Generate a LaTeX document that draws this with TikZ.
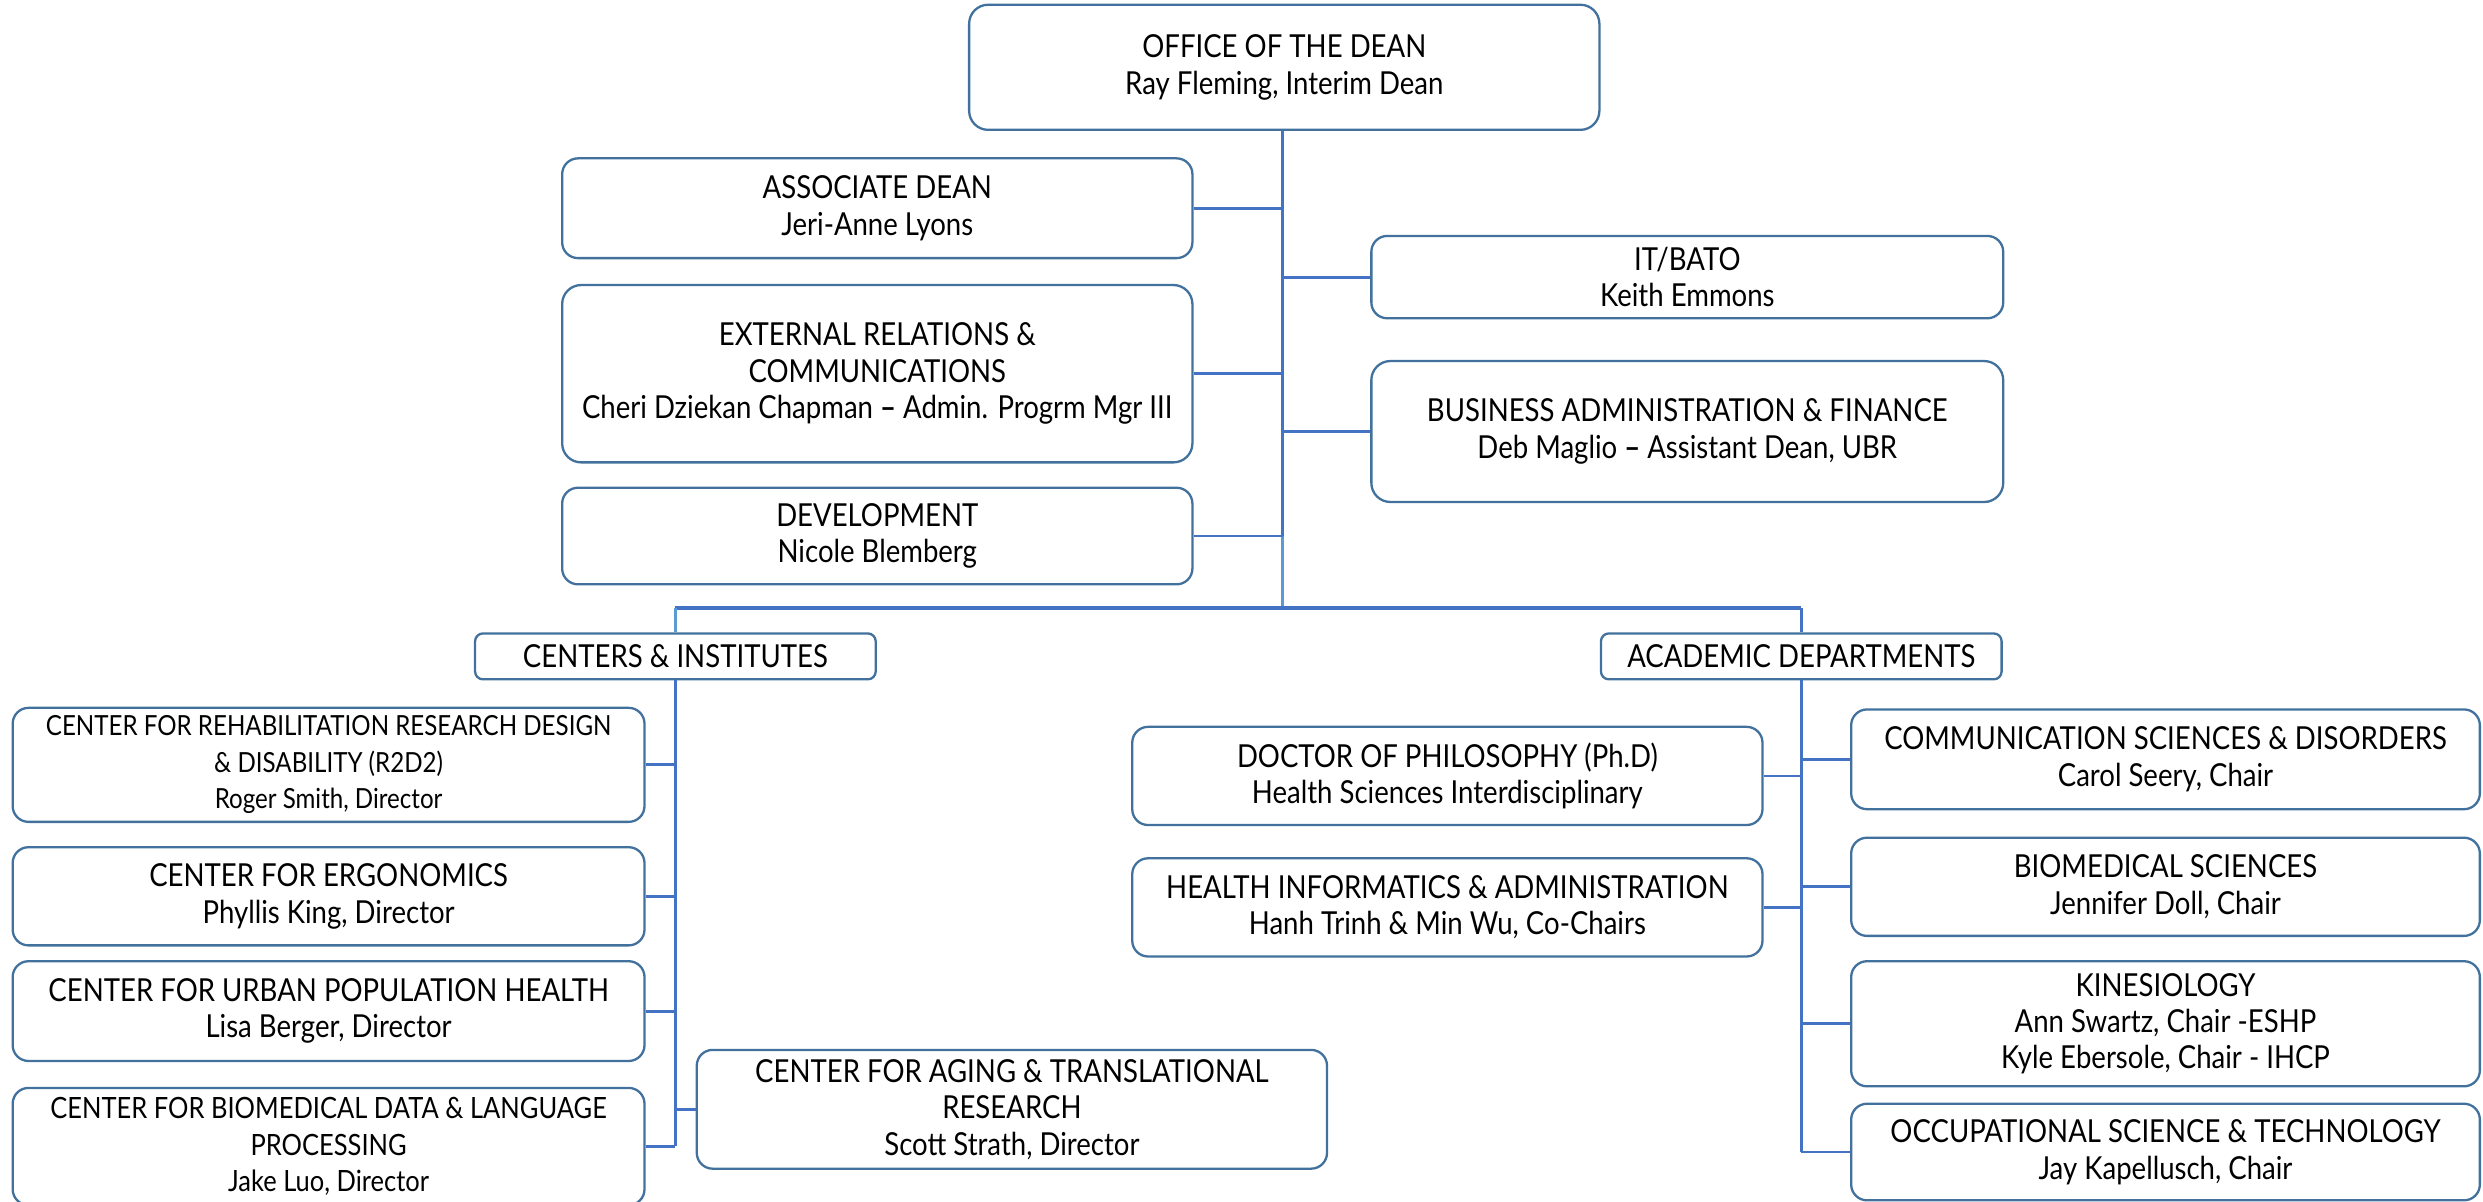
\documentclass[tikz,border=0pt]{standalone}
\usepackage{fontspec}
\setmainfont{Lato}[FakeStretch=0.87]
\definecolor{boxc}{RGB}{65,113,156}
\definecolor{linec}{RGB}{68,114,196}
\definecolor{lightc}{RGB}{91,155,213}
\tikzset{
  box/.style={draw=boxc, line width=1.45pt, rounded corners=10pt, align=center, inner sep=0pt,
    font=\fontsize{20}{23}\selectfont},
  smallbox/.style={box, rounded corners=5pt},
  conn/.style={draw=linec, line width=1.8pt},
  lconn/.style={draw=lightc, line width=1.8pt},
  barline/.style={draw=linec, line width=2.8pt},
}
\begin{document}
\begin{tikzpicture}[x=1pt,y=1pt]
\useasboundingbox (0,0) rectangle (1568,-759);
% top level
\node[box, rounded corners=12pt, minimum width=398pt, minimum height=79pt] (office) at (811,-42.5) {OFFICE OF THE DEAN\\Ray Fleming, Interim Dean};
\node[box, minimum width=398pt, minimum height=63pt] (assoc) at (554,-131.5) {ASSOCIATE DEAN\\Jeri-Anne Lyons};
\node[box, rounded corners=12pt, minimum width=398pt, minimum height=112pt] (ext) at (554,-236) {EXTERNAL RELATIONS \&\\COMMUNICATIONS\\Cheri Dziekan Chapman \textbf{–} Admin. Progrm Mgr III};
\node[box, minimum width=398pt, minimum height=61pt] (dev) at (554,-338.5) {DEVELOPMENT\\Nicole Blemberg};
\node[box, minimum width=399pt, minimum height=52pt] (it) at (1065.5,-175) {IT/BATO\\Keith Emmons};
\node[box, rounded corners=12pt, minimum width=399pt, minimum height=89pt] (bus) at (1065.5,-272.5) {BUSINESS ADMINISTRATION \& FINANCE\\Deb Maglio \textbf{–} Assistant Dean, UBR};
% second level
\node[smallbox, minimum width=253pt, minimum height=29pt] (centers) at (426.5,-414.5) {CENTERS \& INSTITUTES};
\node[smallbox, minimum width=253pt, minimum height=29pt] (acad) at (1137.5,-414.5) {ACADEMIC DEPARTMENTS};
% centers
\node[box, minimum width=399pt, minimum height=72pt] (rehab) at (207.5,-483) {{\fontsize{17.5}{21}\selectfont CENTER FOR REHABILITATION RESEARCH DESIGN}\\{\fontsize{17.5}{21}\selectfont \& DISABILITY (R2D2)}\\{\fontsize{17.5}{21}\selectfont Roger Smith, Director}};
\node[box, minimum width=399pt, minimum height=62pt] (ergo) at (207.5,-566) {CENTER FOR ERGONOMICS\\Phyllis King, Director};
\node[box, minimum width=399pt, minimum height=63pt] (urban) at (207.5,-638.5) {CENTER FOR URBAN POPULATION HEALTH\\Lisa Berger, Director};
\node[box, minimum width=399pt, minimum height=74pt] (bdata) at (207.5,-724) {{\fontsize{18.5}{22}\selectfont CENTER FOR BIOMEDICAL DATA \& LANGUAGE}\\{\fontsize{18.5}{22}\selectfont PROCESSING}\\{\fontsize{18.5}{22}\selectfont Jake Luo, Director}};
\node[box, minimum width=398pt, minimum height=75pt] (aging) at (639,-700.5) {CENTER FOR AGING \& TRANSLATIONAL\\RESEARCH\\Scott Strath, Director};
% academic
\node[box, minimum width=398pt, minimum height=62pt] (phd) at (914,-490) {DOCTOR OF PHILOSOPHY (Ph.D)\\Health Sciences Interdisciplinary};
\node[box, minimum width=398pt, minimum height=62pt] (hia) at (914,-573) {HEALTH INFORMATICS \& ADMINISTRATION\\Hanh Trinh \& Min Wu, Co-Chairs};
\node[box, minimum width=397pt, minimum height=63pt] (csd) at (1367.5,-479.5) {COMMUNICATION SCIENCES \& DISORDERS\\Carol Seery, Chair};
\node[box, minimum width=397pt, minimum height=62pt] (bms) at (1367.5,-560) {BIOMEDICAL SCIENCES\\Jennifer Doll, Chair};
\node[box, minimum width=397pt, minimum height=79pt] (kin) at (1367.5,-646.5) {KINESIOLOGY\\Ann Swartz, Chair -ESHP\\Kyle Ebersole, Chair - IHCP};
\node[box, minimum width=397pt, minimum height=61pt] (ost) at (1367.5,-727.5) {OCCUPATIONAL SCIENCE \& TECHNOLOGY\\Jay Kapellusch, Chair};
% trunk
\coordinate (bar) at (810,-384);
\coordinate (tk) at (810,-82.5);
\draw[conn] (tk) -- (tk |- dev.east);
\draw[lconn] (tk |- dev.east) -- (bar);
\foreach \n in {assoc,ext,dev}{\draw[conn] (\n.east) -- (\n.east -| tk);}
\foreach \n in {it,bus}{\draw[conn] (\n.west) -- (\n.west -| tk);}
% bar
\coordinate (barL) at (centers.north |- bar);
\coordinate (barR) at (acad.north |- bar);
\draw[barline] (barL) -- (barR);
\draw[lconn] (barL) -- (centers.north);
\draw[conn] (barR) -- (acad.north);
% centers branch
\draw[conn] (centers.south) -- (centers.south |- bdata.east);
\foreach \n in {rehab,ergo,urban,bdata}{\draw[conn] (\n.east) -- (\n.east -| centers.south);}
\draw[conn] (aging.west) -- (aging.west -| centers.south);
% academic branch
\draw[conn] (acad.south) -- (acad.south |- ost.west);
\foreach \n in {phd,hia}{\draw[conn] (\n.east) -- (\n.east -| acad.south);}
\foreach \n in {csd,bms,kin,ost}{\draw[conn] (\n.west) -- (\n.west -| acad.south);}
\end{tikzpicture}
\end{document}
